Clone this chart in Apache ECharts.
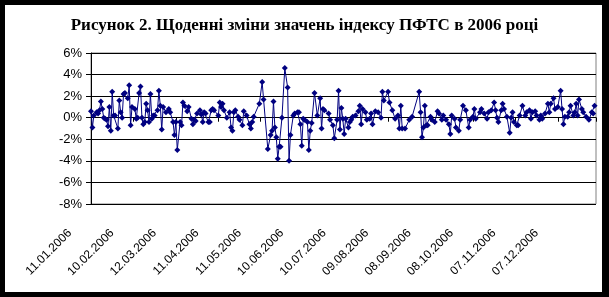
<!DOCTYPE html>
<html><head><meta charset="utf-8">
<script src="https://cdn.jsdelivr.net/npm/echarts@6/dist/echarts.min.js"></script>
<style>
html,body{margin:0;padding:0;background:#000;width:609px;height:297px;overflow:hidden}
#panel{position:absolute;left:5px;top:5px;width:597px;height:287px;background:#fff}
#c{position:absolute;left:0;top:0;width:609px;height:297px}
</style></head><body>
<div id="panel"></div><div id="c"></div>
<script>
const titleText = 'Рисунок 2. Щоденні зміни значень індексу ПФТС в 2006 році';
const tickLabels = ['11.01.2006','10.02.2006','12.03.2006','11.04.2006','11.05.2006','10.06.2006','10.07.2006','09.08.2006','08.09.2006','08.10.2006','07.11.2006','07.12.2006'];
const yTicks = [-8,-6,-4,-2,0,2,4,6];
// days since 11.01.2006
const dayOffsets = [0,1,2,4,5,6,7,8,9,10,11,12,13,14,15,16,17,19,20,21,22,23,24,26,27,28,29,31,32,33,34,35,36,37,38,39,40,41,42,43,44,45,47,48,49,50,51,53,55,56,58,59,60,61,63,64,65,66,68,69,71,72,73,74,75,77,78,79,80,81,83,84,85,86,87,90,91,92,93,94,96,98,99,100,101,102,104,105,
107,108,110,112,113,114,115,119,121,122,125,127,128,129,130,131,132,133,134,135,137,139,140,141,143,144,146,147,148,149,150,151,153,154,155,156,158,160,162,163,164,165,168,169,171,172,174,175,176,177,178,179,180,182,183,184,185,187,189,190,191,192,194,195,197,198,199,201,203,205,206,207,210,211,213,215,217,218,
219,220,222,225,227,232,233,234,235,236,237,238,240,241,243,245,246,248,249,251,253,254,255,257,258,260,261,263,265,267,268,270,271,272,275,276,278,280,281,283,285,286,287,288,290,291,292,294,296,297,298,299,301,302,303,305,307,308,310,311,312,314,315,317,318,319,321,323,324,325,327,328,330,332,333,334,335,337,338,339,341,342,343,344,345,347,348,350,352,354,355,356];
// daily change, %
const dailyChange = [0.6,-0.9,0.2,0.5,0.4,0.7,1.5,0.8,0.0,-0.1,-0.2,-0.8,1.0,-1.2,2.4,0.2,0.2,-1.0,1.6,0.5,0.0,2.2,2.3,1.8,3.0,-0.7,1.0,0.8,-0.1,0.0,2.3,2.9,0.0,-0.6,-0.4,1.3,0.7,-0.4,2.2,-0.1,0.2,0.2,0.7,2.5,1.1,-1.1,1.0,0.5,0.8,0.5,-0.4,-1.6,-0.4,-3.0,-0.4,-0.7,1.4,1.1,0.6,1.0,-0.1,-0.6,-0.2,-0.3,0.4,0.7,0.3,-0.4,0.5,0.4,-0.4,-0.4,0.7,0.8,0.7,0.2,1.4,1.0,1.3,0.7,0.0,0.5,-0.9,-1.2,0.5,0.7,0.1,-0.2,
-0.7,0.6,0.2,-0.6,-1.0,-0.4,0.1,1.3,3.3,1.7,-2.9,-1.6,-1.2,1.5,-0.9,-1.8,-3.8,-2.7,-2.7,0.0,4.6,2.8,-4.0,-1.6,0.2,0.4,0.5,0.5,-0.6,-2.6,-0.1,-0.2,-0.4,-3.0,-1.2,-0.5,2.3,0.2,1.8,-1.0,0.8,0.7,0.4,-0.2,-0.7,-1.9,-0.2,2.5,-1.1,0.9,-0.1,-1.5,-0.1,-0.9,-0.4,-0.2,0.1,0.2,0.6,1.1,-0.6,0.8,0.5,-0.2,-0.1,0.4,-0.6,0.6,0.5,0.0,2.4,1.6,2.4,1.4,0.7,-0.1,0.2,-1.0,
1.1,-1.0,-1.0,-0.2,0.1,2.4,0.5,-1.8,-0.9,1.1,-0.7,-0.7,0.1,-0.2,-0.4,0.6,0.4,-0.2,0.2,-0.2,-0.6,-1.5,0.2,-0.1,-0.9,-1.2,-0.2,1.1,0.7,-0.9,-0.2,0.1,0.8,-0.1,0.5,0.8,0.4,-0.1,0.5,0.7,1.4,0.7,0.0,-0.4,0.7,1.3,0.8,0.1,-1.4,0.0,0.5,-0.4,-0.7,-0.7,0.2,1.1,0.2,0.5,0.7,-0.1,0.5,0.6,0.2,-0.2,0.2,-0.1,0.4,1.3,0.5,1.3,1.8,0.8,1.0,2.5,0.8,-0.6,0.1,0.1,0.5,1.1,0.2,0.5,1.3,0.2,1.7,0.8,0.5,0.1,-0.2,0.5,0.4,1.1];

const chart = echarts.init(document.getElementById('c'), null, {renderer: 'canvas'});
const xCommon = {type: 'value', min: 0, max: 357, interval: 30, splitLine: {show: false}};
chart.setOption({
  animation: false,
  title: {text: titleText, left: 'center', top: 12,
    textStyle: {fontFamily: 'Liberation Serif', fontWeight: 'bold', fontSize: 17, color: '#000'}},
  grid: {left: 91, right: 13, top: 53, bottom: 93, show: true, borderColor: '#808080', borderWidth: 1, backgroundColor: 'transparent'},
  xAxis: [
    Object.assign({}, xCommon, {position: 'bottom',
      axisLine: {show: true, onZero: true, lineStyle: {color: '#000', width: 1}},
      axisTick: {show: true, length: 4, lineStyle: {color: '#000'}},
      axisLabel: {show: false}}),
    Object.assign({}, xCommon, {position: 'bottom',
      axisLine: {show: false, onZero: false},
      axisTick: {show: false},
      axisLabel: {show: true, rotate: 45, margin: 6, padding: [0, 30, 0, 0],
        fontFamily: 'Liberation Sans', fontSize: 12, color: '#000', showMaxLabel: false,
        formatter: v => { const i = Math.round(v / 30); return (v % 30 === 0 && tickLabels[i]) ? tickLabels[i] : ''; }}})
  ],
  yAxis: {type: 'value', min: yTicks[0], max: yTicks[yTicks.length - 1], interval: 2,
    axisLine: {show: true, lineStyle: {color: '#000', width: 1}},
    axisTick: {show: true, length: 5, lineStyle: {color: '#000'}},
    axisLabel: {formatter: '{value}%', fontFamily: 'Liberation Sans', fontSize: 13, color: '#000', margin: 9},
    splitLine: {show: true, lineStyle: {color: '#000', width: 1}}},
  series: [{type: 'line', xAxisIndex: 0,
    data: dayOffsets.map((d, i) => [d, dailyChange[i]]),
    symbol: 'diamond', symbolSize: 6,
    itemStyle: {color: '#000080'},
    lineStyle: {color: '#000080', width: 1}}]
});
</script></body></html>
